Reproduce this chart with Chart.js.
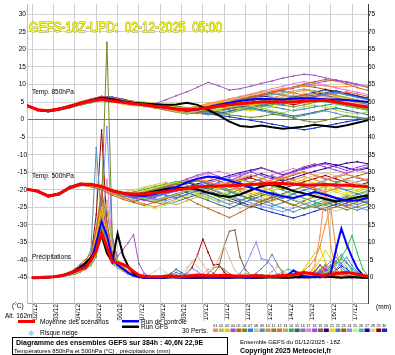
<!DOCTYPE html>
<html><head><meta charset="utf-8">
<script src="https://cdn.jsdelivr.net/npm/chart.js@4.4.0/dist/chart.umd.min.js"></script>
<style>html,body{margin:0;padding:0;background:#fff;overflow:hidden}canvas{display:block}</style>
</head><body>
<canvas id="c" width="395" height="355"></canvas>
<script>
// ---- time axes (hours from run start 01/12 18Z) ----
const hoursT = [0,12,24,36,48,60,72,84,96,108,120,132,144,156,168,180,192,204,216,228,240,252,264,276,288,300,312,324,336,348,360,372,384];
const hoursP = [6,12,18,24,30,36,42,48,54,60,66,72,78,84,90,96,102,108,114,120,126,132,138,144,150,156,162,168,174,180,186,192,198,204,210,216,222,228,234,240,246,252,258,264,270,276,282,288,294,300,306,312,318,324,330,336,342,348,354,360,366,372,378,384];
const dayHours = [6,30,54,78,102,126,150,174,198,222,246,270,294,318,342,366];
const dayLabels = ['02/12','03/12','04/12','05/12','06/12','07/12','08/12','09/12','10/12','11/12','12/12','13/12','14/12','15/12','16/12','17/12'];
const leftTicks = [-45,-40,-35,-30,-25,-20,-15,-10,-5,0,5,10,15,20,25,30];
const rightTicks = [0,5,10,15,20,25,30,35,40,45,50,55,60,65,70,75];

const memberColors = ['#ff8c40','#a0d060','#e8c800','#a050c0','#c06010','#6e8a20','#2080ff','#e0c090','#5090c0','#e09030','#808040','#ff6030','#c0b060','#20c040','#306080','#708090','#e080e0','#a040ff','#806040','#300080','#e0e000','#4080c0','#a06000','#8090ff','#c0ff60','#40c0a0','#2000a0','#e0d0b0','#a00000','#0030c0'];

// ---- Temperature 850 hPa (°C) ----
const t850Mean = [4.0,2.8,2.5,3.0,3.7,4.6,5.4,5.8,5.3,4.9,4.5,4.2,3.8,3.5,3.0,2.8,3.0,3.4,3.9,4.2,4.5,4.8,5.0,5.0,5.0,5.0,5.2,5.4,5.5,5.0,4.5,4.0,3.6];
const t850Ctrl = [4.0,2.7,2.4,2.9,3.7,4.6,5.4,5.9,5.5,5.0,4.6,4.2,3.8,3.4,3.0,2.6,2.9,3.5,4.2,4.8,5.3,5.7,5.9,5.8,5.7,5.9,6.1,6.0,5.8,5.7,5.6,5.3,5.0];
const t850Gfs = [4.0,2.8,2.5,3.0,3.8,4.7,5.5,6.2,5.8,5.2,4.8,4.6,4.4,4.2,4.3,4.8,4.2,2.8,1.2,-0.6,-1.8,-2.1,-1.7,-2.2,-2.6,-2.3,-2.0,-1.5,-1.8,-2.2,-1.6,-0.9,-0.2];
const t850Members = [
[4.0,2.9,2.4,3.2,4.0,5.0,5.6,6.2,5.5,4.6,4.2,4.4,4.0,3.2,2.5,2.9,3.8,4.6,5.2,5.9,6.4,7.1,7.8,8.2,8.9,9.1,9.5,9.8,9.6,9.3,9.4,9.7,9.5],
[4.0,2.7,2.6,2.9,3.5,4.3,5.2,5.9,5.6,5.3,5.1,4.4,3.6,3.1,2.2,1.8,2.4,3.1,2.6,2.0,2.9,3.8,3.3,2.5,1.9,2.8,3.6,4.1,3.4,2.7,2.0,1.6,2.2],
[4.0,2.8,2.3,2.7,3.9,4.8,5.5,5.7,5.0,4.5,4.8,5.0,4.6,4.1,3.5,3.2,3.6,4.4,4.9,5.3,4.7,4.1,4.6,5.4,6.1,5.6,4.8,5.2,6.0,6.5,5.8,5.1,4.6],
[4.0,2.9,2.5,3.1,3.8,4.7,5.7,6.5,6.1,5.2,4.4,3.9,4.5,5.6,6.8,7.9,9.2,10.6,9.6,8.4,8.8,9.5,10.3,11.0,11.8,12.4,12.9,12.6,11.9,11.2,10.8,10.1,9.4],
[4.0,2.6,2.3,3.0,3.7,4.4,5.1,5.6,5.2,4.9,4.7,4.0,3.3,2.7,2.1,1.6,1.9,2.6,3.5,4.6,5.5,6.3,7.0,7.9,8.6,9.3,10.1,10.8,11.4,11.0,10.2,9.1,8.3],
[4.0,2.7,2.4,2.9,3.4,4.2,4.9,5.6,5.4,5.0,4.9,4.7,4.5,4.2,3.8,3.4,3.0,2.4,1.9,1.3,1.0,0.6,0.9,1.5,1.2,0.4,-0.3,-0.8,-0.2,0.5,1.1,0.7,0.3],
[4.0,2.8,2.6,3.1,3.9,4.8,5.4,6.0,5.7,5.1,4.6,4.1,3.7,3.3,2.9,2.3,2.7,3.3,4.1,4.8,5.6,6.3,5.7,4.9,4.3,5.1,5.9,6.6,7.3,7.9,7.2,6.4,5.8],
[4.0,2.9,2.5,2.8,3.6,4.5,5.3,5.8,5.1,4.3,3.9,3.6,3.3,2.9,2.6,2.8,3.5,4.2,4.9,5.6,6.2,6.9,7.5,8.3,8.9,8.4,7.7,7.0,6.4,5.8,5.2,4.6,4.0],
[4.0,2.7,2.2,2.6,3.3,4.1,4.8,5.5,5.3,5.0,4.8,4.5,4.2,3.7,3.1,2.6,2.2,1.8,1.4,1.9,2.6,3.1,2.5,1.8,1.1,0.6,1.2,1.9,2.5,1.8,1.0,0.4,-0.1],
[4.0,2.8,2.5,3.1,3.9,4.9,5.6,6.4,6.0,5.5,5.2,4.9,4.4,4.0,3.7,3.3,3.8,4.5,5.1,5.8,6.4,6.0,5.5,6.2,7.0,7.7,8.3,8.0,7.4,6.8,6.2,5.6,5.0],
[4.0,2.6,2.4,3.0,3.7,4.6,5.3,5.7,5.2,4.6,4.3,4.1,3.8,3.4,2.8,2.4,2.7,3.1,3.6,3.2,2.7,3.3,4.0,4.6,4.1,3.6,4.2,4.9,5.5,5.0,4.3,3.6,3.0],
[4.0,2.9,2.7,3.3,4.1,5.1,5.9,6.6,6.2,5.6,5.0,4.6,4.3,4.0,3.6,3.1,3.4,3.9,4.5,5.1,5.7,6.4,7.1,7.7,8.1,7.6,7.0,6.5,6.9,7.4,7.9,7.3,6.6],
[4.0,2.7,2.3,2.7,3.5,4.4,5.2,5.9,5.8,5.4,5.0,4.6,4.1,3.6,3.0,2.3,1.7,2.2,2.8,3.4,4.0,4.7,5.3,5.8,6.4,7.0,6.6,6.0,5.4,4.8,4.1,3.5,2.9],
[4.0,2.8,2.4,2.9,3.6,4.5,5.3,6.0,5.6,5.0,4.5,4.2,3.9,3.5,3.0,2.6,3.0,3.6,4.3,4.0,3.5,3.0,3.6,4.2,4.9,5.5,6.2,5.7,5.1,4.5,3.8,3.2,2.6],
[4.0,2.6,2.2,2.8,3.6,4.4,5.0,5.4,5.0,4.6,4.4,4.2,3.9,3.6,3.3,2.9,2.5,2.1,2.6,3.2,3.8,3.3,2.8,2.2,1.6,1.0,1.5,2.1,2.8,3.3,2.7,2.0,1.4],
[4.0,2.9,2.6,3.0,3.8,4.8,5.5,6.1,5.7,5.2,4.7,4.3,4.0,3.7,3.4,3.0,3.4,4.0,4.6,5.2,5.8,6.3,6.9,7.4,7.0,6.4,5.9,6.5,7.1,7.6,7.0,6.3,5.6],
[4.0,2.7,2.5,3.1,3.9,4.7,5.4,6.3,6.0,5.4,4.9,4.5,4.2,3.9,3.4,3.0,3.5,4.2,5.0,5.8,6.6,7.3,8.1,8.8,9.5,10.2,10.8,10.4,9.8,9.0,8.4,7.8,7.1],
[4.0,2.8,2.3,2.8,3.5,4.3,5.1,5.8,5.5,5.1,4.7,4.2,3.6,3.0,2.4,1.9,2.5,3.3,4.0,4.7,5.5,6.3,7.0,7.6,8.3,9.0,9.7,10.3,10.9,11.3,10.6,9.9,9.1],
[4.0,2.7,2.4,2.9,3.7,4.6,5.4,6.1,5.9,5.3,4.8,4.4,4.0,3.6,3.2,2.7,2.3,1.9,2.4,3.0,3.6,4.1,4.6,5.2,5.8,6.3,6.9,7.4,6.9,6.3,5.7,5.0,4.4],
[4.0,2.9,2.6,3.2,4.0,4.9,5.8,6.6,6.4,5.8,5.2,4.7,4.2,3.8,3.3,2.9,3.3,3.9,4.4,5.0,5.7,6.2,6.8,6.3,5.8,6.4,7.1,7.8,8.5,8.0,7.3,6.6,6.0],
[4.0,2.8,2.5,3.0,3.8,4.6,5.2,5.6,5.3,4.9,4.6,4.3,4.1,3.8,3.4,3.0,2.7,2.4,2.9,3.5,3.0,2.5,3.0,3.6,4.2,4.8,5.4,6.0,5.5,4.9,4.3,3.7,3.1],
[4.0,2.6,2.3,2.9,3.6,4.5,5.2,5.8,5.5,5.0,4.5,4.0,3.5,3.1,2.7,2.2,1.8,1.4,1.9,2.5,3.1,3.7,4.2,3.7,3.1,2.5,3.0,3.6,4.1,4.6,4.1,3.5,3.0],
[4.0,2.9,2.7,3.2,4.0,4.9,5.6,6.2,5.8,5.4,5.0,4.7,4.4,4.1,3.7,3.3,3.7,4.2,4.8,5.4,6.0,6.6,7.2,7.8,8.4,9.0,9.6,9.2,8.6,8.0,7.3,6.7,6.0],
[4.0,2.7,2.4,3.0,3.7,4.5,5.3,6.0,5.7,5.2,4.8,4.4,4.0,3.5,3.1,2.6,2.9,3.4,4.0,4.6,4.1,3.6,4.2,4.8,5.5,6.1,6.7,7.2,6.7,6.1,5.4,4.8,4.2],
[4.0,2.8,2.4,2.8,3.5,4.4,5.1,5.7,5.4,4.9,4.5,4.1,3.7,3.3,2.9,2.5,2.1,2.6,3.2,3.8,4.4,5.0,5.6,6.2,5.7,5.1,4.6,4.0,3.5,3.9,4.4,3.9,3.3],
[4.0,2.6,2.2,2.7,3.4,4.2,4.9,5.5,5.2,4.8,4.5,4.3,4.0,3.6,3.1,2.7,3.1,3.7,4.3,4.9,5.4,6.0,6.5,7.1,7.6,8.2,8.7,8.2,7.6,7.0,6.3,5.6,4.9],
[4.0,2.9,2.6,3.1,3.9,4.8,5.6,6.3,6.0,5.5,5.0,4.6,4.2,3.8,3.4,3.0,2.6,2.2,1.8,2.3,2.9,3.5,4.1,4.7,5.3,5.9,6.5,7.1,7.7,8.2,7.5,6.8,6.1],
[4.0,2.8,2.5,3.0,3.8,4.7,5.4,6.0,5.6,5.1,4.6,4.2,3.9,3.5,3.1,2.8,3.2,3.8,4.4,5.1,5.7,5.2,4.7,5.3,6.0,6.6,7.2,6.8,6.2,5.6,5.0,4.4,3.8],
[4.0,2.7,2.3,2.8,3.6,4.5,5.2,5.9,5.7,5.3,4.9,4.5,4.1,3.7,3.2,2.8,2.4,2.9,3.5,4.1,4.7,5.3,5.9,5.4,4.8,4.2,4.8,5.4,6.0,5.5,4.9,4.3,3.7],
[4.0,2.9,2.5,3.1,3.8,4.6,5.3,5.9,5.5,5.0,4.5,4.0,3.6,3.2,2.8,2.4,2.0,1.6,1.2,0.8,0.3,-0.2,-0.7,-1.3,-1.8,-2.4,-2.9,-2.4,-1.8,-1.2,-0.6,-0.1,0.4]
];

// ---- Temperature 500 hPa (°C) ----
const t500Mean = [-19.8,-20.4,-21.8,-21.2,-19.4,-18.4,-18.5,-19.0,-20.3,-21.0,-21.2,-21.2,-20.8,-20.5,-20.0,-19.6,-19.2,-19.0,-18.9,-18.8,-18.7,-18.5,-18.3,-18.1,-18.2,-18.4,-18.6,-18.6,-18.5,-18.6,-18.7,-18.9,-19.1];
const t500Ctrl = [-19.8,-20.4,-21.8,-21.2,-19.4,-18.4,-18.5,-19.1,-20.3,-21.0,-21.5,-21.8,-21.2,-20.3,-19.2,-17.9,-16.8,-16.2,-16.5,-17.4,-18.3,-19.4,-20.3,-21.1,-21.8,-22.3,-21.5,-20.6,-21.4,-22.3,-23.1,-23.0,-22.2];
const t500Gfs = [-19.8,-20.3,-21.7,-21.1,-19.3,-18.3,-18.4,-19.0,-20.2,-20.9,-21.3,-21.0,-20.4,-19.8,-19.5,-19.3,-19.9,-20.8,-21.6,-22.0,-21.3,-20.1,-19.0,-18.4,-19.2,-20.3,-21.0,-21.8,-22.6,-23.3,-22.8,-22.1,-21.6];
const t500Members = [
[-19.8,-20.3,-21.6,-21.0,-19.2,-18.2,-18.6,-19.5,-21.0,-22.3,-23.0,-22.1,-21.0,-20.2,-19.1,-17.8,-16.9,-17.6,-18.8,-17.9,-16.8,-15.9,-16.7,-17.8,-16.6,-15.5,-14.8,-15.9,-17.1,-16.4,-15.6,-16.3,-17.2],
[-19.8,-20.5,-22.0,-21.4,-19.6,-18.6,-18.2,-18.8,-19.9,-20.6,-21.5,-22.4,-23.1,-22.2,-21.3,-20.1,-21.0,-22.3,-23.5,-22.6,-21.4,-20.2,-19.1,-20.3,-21.6,-22.8,-23.9,-24.8,-23.6,-22.5,-21.4,-22.3,-23.1],
[-19.8,-20.4,-21.7,-21.1,-19.3,-18.5,-18.8,-19.4,-20.5,-21.4,-21.0,-20.3,-19.5,-18.6,-17.9,-18.7,-19.8,-20.6,-19.4,-18.3,-17.2,-18.1,-19.3,-20.4,-19.2,-18.0,-17.1,-18.2,-19.5,-20.7,-21.6,-20.5,-19.6],
[-19.8,-20.2,-21.5,-20.9,-19.0,-18.1,-18.3,-18.9,-20.1,-21.2,-22.0,-21.3,-20.4,-19.2,-18.0,-16.9,-15.8,-15.0,-16.2,-17.4,-16.1,-14.9,-13.8,-14.7,-15.9,-14.6,-13.4,-12.6,-13.5,-14.4,-15.3,-14.2,-13.4],
[-19.8,-20.5,-21.9,-21.3,-19.5,-18.7,-19.1,-20.0,-21.5,-22.7,-23.6,-24.4,-23.5,-22.3,-21.2,-22.4,-24.0,-25.3,-26.6,-27.9,-26.4,-24.8,-23.1,-22.0,-23.2,-24.5,-23.1,-21.9,-22.8,-23.7,-24.6,-23.4,-22.5],
[-19.8,-20.3,-21.8,-21.2,-19.4,-18.3,-18.4,-19.1,-20.2,-20.9,-21.6,-20.7,-19.8,-19.0,-18.4,-17.6,-18.5,-19.6,-20.8,-21.9,-23.0,-22.1,-21.0,-21.9,-23.1,-24.2,-25.4,-24.5,-23.5,-24.6,-25.7,-24.8,-23.9],
[-19.8,-20.4,-21.7,-21.0,-19.1,-18.3,-18.6,-19.3,-20.6,-21.6,-22.4,-21.6,-20.7,-21.5,-22.3,-21.3,-20.2,-19.0,-17.8,-16.9,-17.9,-19.1,-20.3,-21.5,-22.4,-21.2,-20.1,-19.0,-18.1,-19.0,-20.1,-21.2,-22.0],
[-19.8,-20.3,-21.6,-20.8,-19.0,-18.0,-18.1,-18.7,-19.8,-20.5,-20.0,-19.2,-18.5,-17.8,-18.9,-19.9,-20.9,-19.8,-18.6,-17.5,-16.4,-15.6,-16.8,-18.0,-19.1,-18.0,-16.9,-15.9,-15.1,-16.0,-17.1,-18.1,-18.9],
[-19.8,-20.6,-22.0,-21.5,-19.8,-18.8,-18.7,-19.2,-20.4,-21.3,-21.9,-22.6,-21.8,-20.9,-20.1,-19.4,-20.4,-21.6,-22.9,-24.1,-23.0,-21.8,-22.9,-24.0,-25.2,-26.3,-25.1,-24.0,-22.8,-23.8,-24.9,-25.8,-24.7],
[-19.8,-20.4,-21.8,-21.3,-19.5,-18.4,-18.5,-19.2,-20.7,-21.9,-23.0,-24.0,-24.9,-23.8,-22.6,-21.4,-20.3,-19.2,-18.1,-19.2,-20.4,-21.6,-20.5,-19.4,-18.3,-17.2,-16.2,-17.1,-18.2,-19.3,-20.2,-19.1,-18.2],
[-19.8,-20.3,-21.7,-21.1,-19.3,-18.4,-18.7,-19.5,-20.8,-21.5,-21.2,-20.6,-20.0,-19.3,-18.7,-18.0,-17.4,-18.3,-19.3,-20.3,-21.4,-22.5,-23.4,-22.3,-21.1,-20.0,-19.0,-20.0,-21.1,-22.2,-23.2,-22.2,-21.2],
[-19.8,-20.5,-21.9,-21.2,-19.4,-18.5,-18.4,-18.9,-20.0,-20.8,-21.4,-21.9,-21.0,-20.0,-19.0,-18.1,-17.2,-16.4,-17.5,-18.7,-19.8,-19.0,-18.1,-17.1,-16.3,-17.3,-18.4,-19.5,-20.6,-19.6,-18.6,-17.7,-16.9],
[-19.8,-20.4,-21.6,-20.9,-19.2,-18.2,-18.3,-19.0,-20.3,-21.1,-21.8,-22.4,-23.0,-23.6,-24.2,-23.1,-22.0,-20.8,-19.7,-18.7,-19.8,-21.0,-22.2,-23.3,-22.2,-21.0,-20.0,-21.1,-22.3,-23.4,-22.4,-21.4,-20.6],
[-19.8,-20.3,-21.8,-21.1,-19.3,-18.3,-18.5,-19.2,-20.5,-21.3,-20.6,-19.9,-19.1,-18.4,-17.6,-18.6,-19.7,-20.9,-22.0,-21.0,-19.9,-18.8,-17.8,-18.9,-20.1,-21.2,-22.4,-23.5,-24.4,-23.4,-22.3,-21.2,-20.2],
[-19.8,-20.5,-22.0,-21.4,-19.6,-18.5,-18.6,-19.4,-20.9,-22.1,-23.3,-22.5,-21.5,-20.6,-19.6,-20.7,-21.9,-23.0,-24.2,-25.2,-24.0,-22.8,-21.7,-20.6,-21.8,-22.9,-24.0,-25.0,-24.0,-23.0,-21.9,-22.9,-23.8],
[-19.8,-20.3,-21.6,-21.0,-19.1,-18.2,-18.4,-19.1,-20.2,-21.0,-21.7,-21.0,-20.1,-19.2,-18.3,-17.5,-16.8,-17.8,-18.9,-20.0,-19.0,-17.9,-16.9,-16.0,-17.0,-18.1,-19.2,-18.3,-17.3,-16.4,-15.6,-16.6,-17.5],
[-19.8,-20.4,-21.8,-21.2,-19.4,-18.6,-19.0,-19.8,-21.1,-22.0,-21.3,-20.5,-19.6,-18.8,-18.0,-17.1,-16.2,-15.4,-14.7,-15.6,-16.7,-17.8,-16.8,-15.7,-14.8,-13.9,-14.8,-15.9,-17.0,-16.1,-15.1,-14.3,-15.2],
[-19.8,-20.3,-21.7,-21.1,-19.2,-18.3,-18.5,-19.3,-20.6,-21.5,-22.3,-23.0,-22.1,-21.2,-20.4,-19.6,-18.8,-18.0,-17.2,-16.4,-15.6,-14.9,-15.9,-16.9,-16.0,-15.0,-14.1,-13.3,-12.6,-13.5,-14.5,-13.6,-12.8],
[-19.8,-20.5,-21.9,-21.4,-19.7,-18.7,-18.8,-19.5,-20.7,-21.6,-22.2,-22.9,-23.6,-22.6,-21.6,-20.6,-19.7,-20.8,-22.0,-23.1,-24.1,-25.0,-24.0,-22.9,-21.9,-22.9,-23.9,-24.9,-25.8,-24.8,-23.8,-22.8,-22.0],
[-19.8,-20.4,-21.7,-21.0,-19.2,-18.3,-18.6,-19.3,-20.4,-21.1,-21.7,-21.1,-20.3,-19.5,-18.7,-17.9,-18.9,-19.9,-19.0,-18.0,-17.1,-16.2,-15.4,-16.4,-17.5,-16.6,-15.6,-14.7,-13.9,-13.1,-12.4,-12.0,-12.6],
[-19.8,-20.3,-21.8,-21.3,-19.5,-18.4,-18.4,-19.0,-20.1,-20.7,-20.1,-19.5,-18.9,-18.2,-19.2,-20.3,-21.4,-22.5,-21.5,-20.4,-19.4,-20.4,-21.4,-22.4,-21.3,-20.2,-19.1,-18.1,-19.1,-20.1,-21.0,-20.0,-19.1],
[-19.8,-20.4,-21.6,-20.9,-19.1,-18.1,-18.3,-18.9,-20.1,-21.0,-21.6,-22.3,-22.9,-22.0,-21.1,-20.2,-19.3,-18.5,-19.5,-20.6,-21.7,-22.8,-23.8,-24.7,-23.6,-22.5,-21.5,-20.5,-21.5,-22.5,-23.4,-24.2,-23.1],
[-19.8,-20.5,-21.9,-21.2,-19.4,-18.4,-18.5,-19.2,-20.3,-21.2,-21.9,-21.2,-20.3,-19.4,-18.5,-17.7,-18.7,-19.7,-18.8,-17.8,-16.9,-17.9,-18.9,-17.9,-16.8,-15.8,-14.9,-15.8,-16.8,-17.8,-16.9,-16.0,-15.2],
[-19.8,-20.3,-21.7,-21.1,-19.3,-18.2,-18.3,-19.0,-20.0,-20.7,-21.3,-21.9,-22.5,-23.1,-22.2,-21.2,-20.3,-19.4,-20.5,-21.6,-22.7,-23.7,-24.6,-25.4,-26.2,-25.2,-24.1,-23.1,-22.1,-23.1,-24.1,-25.0,-25.8],
[-19.8,-20.4,-21.8,-21.1,-19.3,-18.4,-18.7,-19.6,-21.0,-22.2,-23.4,-24.5,-25.4,-24.3,-23.1,-22.0,-20.9,-19.9,-19.0,-20.0,-21.1,-20.1,-19.1,-18.1,-19.2,-20.3,-21.3,-22.3,-21.3,-20.3,-19.3,-20.3,-21.2],
[-19.8,-20.3,-21.6,-21.0,-19.2,-18.3,-18.4,-19.0,-20.2,-20.9,-21.4,-20.8,-20.1,-19.3,-18.5,-17.7,-16.9,-17.9,-19.0,-20.0,-21.0,-20.0,-19.0,-18.0,-17.1,-18.1,-19.1,-20.1,-19.1,-18.1,-17.2,-18.2,-19.1],
[-19.8,-20.5,-21.9,-21.3,-19.5,-18.6,-18.7,-19.4,-20.6,-21.4,-22.1,-22.7,-21.9,-21.0,-20.1,-19.2,-18.3,-17.5,-16.7,-15.9,-15.1,-14.4,-13.7,-14.7,-15.7,-14.8,-13.8,-13.0,-12.3,-12.9,-13.7,-14.5,-13.8],
[-19.8,-20.4,-21.7,-21.0,-19.1,-18.2,-18.5,-19.3,-20.5,-21.4,-22.1,-22.7,-23.4,-24.0,-23.1,-22.0,-21.0,-22.1,-23.2,-24.3,-25.3,-24.3,-23.2,-22.2,-21.2,-22.2,-23.3,-24.3,-25.2,-26.0,-25.0,-24.0,-23.2],
[-19.8,-20.3,-21.8,-21.2,-19.4,-18.3,-18.4,-19.1,-20.3,-21.1,-21.7,-21.1,-20.4,-19.7,-18.9,-18.1,-17.3,-18.3,-19.4,-18.5,-17.5,-16.6,-17.6,-18.6,-19.6,-18.7,-17.7,-16.8,-15.9,-16.9,-17.9,-18.8,-17.9],
[-19.8,-20.4,-21.7,-21.1,-19.3,-18.4,-18.6,-19.3,-20.5,-21.3,-22.0,-22.8,-23.5,-24.2,-23.3,-22.3,-21.3,-20.3,-21.3,-22.4,-23.5,-24.5,-25.5,-26.4,-27.2,-28.0,-27.1,-26.1,-25.1,-24.1,-23.1,-22.1,-21.2]
];

// ---- Precipitation (mm per 6 h) ----
const precipMean = [0,0,0.1,0.2,0.3,0.5,0.8,1.3,1.8,2.4,2.9,5.0,7.5,12.8,8.8,4.5,4.3,3.8,3.0,1.8,0.7,0.4,0.3,0.3,0.3,0.4,0.5,0.4,0.3,0.4,0.6,0.8,0.7,0.5,0.5,0.6,0.7,0.6,0.5,0.4,0.4,0.5,0.6,0.5,0.4,0.4,0.5,0.6,0.7,0.9,1.2,1.5,1.3,1.0,0.8,0.7,0.9,1.2,1.4,1.5,1.3,1.0,0.7,0.3];
const precipCtrl = [0,0,0,0.1, 0.2,0.4,0.7,1.1, 1.7,2.5,3.5,4.8, 10,16,12,5.5, 3.6,2.5,1.4,0.6, 0.2,0,0,0, 0,0.1,0.2,0.1, 0,0,0.1,0.2, 0.1,0,0,0, 0,0.1,0.2,0.1, 0,0,0.1,0.2, 0.3,0.2,0.1,0.2, 0.8,2.0,1.1,0.4, 0.2,0.1,0.2,0.5, 1.2,8,14,9.5, 5.8,2.6,0.8,0.2];
const precipGfs = [0,0,0,0.1, 0.2,0.5,0.8,1.3, 2.0,3.0,4.2,5.8, 8,12,7,4.5, 12.6,6.5,3.2,1.2, 0.3,0,0,0, 0,0,0.1,0.2, 0.1,0,0,0, 0,0.1,0.2,0.1, 0,0,0.1,0.2, 0.1,0,0,0, 0.1,0.2,0.1,0, 0,0.1,0.3,0.2, 0.1,0.2,0.4,0.3, 0.2,0.1,0,0.1, 0.2,0.1,0,0];
const precipMembers = [
[0,0,0,0.1, 0.2,0.4,0.6,0.9, 1.5,2.2,3.0,4.6, 9,18,14,6, 4,3,2,1, 0.3,0.1,0,0, 0,0.2,0.5,0.3, 0.1,0,0,0.2, 0.4,0.6,0.3,0, 0,0,0.2,0.5, 0.3,0,0,0, 0.1,0.3,0.2,0, 0,0,0.4,0.8, 1.2,3.5,12,26, 9,2,0.8,0.3, 0.5,0.9,0.4,0],
[0,0,0,0, 0.1,0.3,0.5,0.8, 1.2,1.8,2.6,3.8, 7,15,22,9, 5,4,2.5,1.2, 0.4,0.2,0,0, 0,0,0.1,0.2, 0.3,0.1,0,0, 0,0.2,0.4,0.2, 0,0.1,0.3,0.1, 0,0,0.2,0.5, 0.7,0.4,0.1,0, 0,0.2,0.3,0.1, 0,0.3,0.8,1.5, 2.1,3.8,5.2,3.1, 1.4,0.6,0.2,0],
[0,0,0.1,0.2, 0.3,0.5,0.8,1.2, 2.0,3.1,4.2,5.5, 12,20,11,5, 3.5,2.2,1.5,0.8, 0.2,0,0,0, 0.1,0.3,0.2,0, 0,0,0.4,1.0, 0.6,0.2,0,0, 0,0.3,0.2,0, 0,0,0.1,0.4, 0.3,0.1,0,0, 0.2,0.5,1.0,2.5, 4.8,7,8.4,4.5, 1.8,0.9,0.5,0.2, 0.3,0.6,0.2,0],
[0,0,0,0.1, 0.2,0.5,0.9,1.4, 2.2,3.5,4.4,5.1, 8,14,19,10, 6,8,10,12.2, 4,1.2,0.4,0.1, 0,0,0.3,0.6, 0.4,0.1,0,0, 0,0.2,0.5,0.3, 0.1,0,0,0.2, 0.4,0.2,0,0, 0,0.1,0.4,0.6, 0.3,0.1,0,0, 0.2,0.5,1.2,2.4, 3.6,2.2,1.1,0.4, 0.2,0.1,0,0],
[0,0,0.1,0.1, 0.3,0.6,1.0,1.6, 2.5,3.8,5.2,6.8, 14,25,16,7, 4.5,3.2,1.8,0.9, 0.3,0.1,0,0, 0,0.4,0.8,0.5, 0.2,0,0,0, 0.2,0.6,1.1,0.7, 0.3,0.1,0,0, 0,0,0.3,0.6, 0.4,0.2,0,0, 0,0.1,0.2,0.4, 0.8,1.6,3.5,2.0, 0.9,0.4,0.2,0.5, 0.8,0.4,0.1,0],
[0,0,0,0, 0.1,0.2,0.4,0.7, 1.0,1.6,2.4,3.5, 6,21,67,12, 5,3,1.6,0.7, 0.2,0,0,0, 0.1,0.2,0.1,0, 0,0.2,0.5,0.3, 0.1,0,0,0.2, 0.5,0.9,0.4,0.1, 0,0,0.1,0.3, 0.2,0,0,0, 0.1,0.3,0.2,0, 0,0.2,0.6,0.9, 0.5,0.3,0.1,0, 0,0.2,0.4,0.1],
[0,0,0,0.1, 0.2,0.4,0.7,1.1, 1.7,2.6,3.6,4.8, 10,17,13,6, 3.8,2.6,1.5,0.6, 0.1,0,0,0, 0,0.1,0.4,0.7, 0.3,0.1,0,0, 0,0.1,0.3,0.1, 0,0,0.2,0.4, 0.6,0.3,0.1,0, 0,0.2,0.5,0.3, 0.1,0,0,0.1, 0.3,0.6,1.1,1.8, 3.2,4.6,3.0,1.6, 0.8,0.3,0.1,0],
[0,0,0.1,0.1, 0.2,0.3,0.6,0.9, 1.4,2.0,2.9,4.1, 8,13,10,5, 3,2,1.2,0.5, 0.1,0,0,0.2, 0.5,0.8,0.5,0.2, 0.8,2.2,4.5,6.2, 3.8,1.6,2.5,5.4, 9.2,5.6,2.1,0.6, 0.2,0,0,0.1, 0.3,0.6,0.4,0.1, 0,0,0.2,0.4, 0.6,0.3,0.1,0, 0.2,0.4,0.8,0.5, 0.2,0.1,0,0],
[0,0,0,0.1, 0.3,0.5,0.8,1.3, 2.0,3.0,4.5,8.0, 37,16,9,4, 2.8,1.9,1.0,0.4, 0.1,0,0,0, 0,0,0.2,0.5, 0.8,0.5,0.2,0, 0,0,0.1,0.3, 0.5,0.3,0.1,0, 0,0.2,0.6,0.9, 0.5,0.2,0,0, 0.1,0.4,0.8,0.5, 0.2,0.1,0.3,0.6, 1.2,2.4,4.2,5.8, 3.5,1.6,0.6,0.1],
[0,0,0,0, 0.1,0.3,0.6,1.0, 1.6,2.4,3.4,4.9, 11,22,15,7, 4.2,2.9,1.7,0.8, 0.2,0,0,0, 0,0.2,0.1,0, 0,0.1,0.3,0.2, 0,0,0.2,0.5, 0.3,0.1,0,0, 0.1,0.3,0.2,0, 0,0,0.1,0.3, 0.5,0.8,1.2,2.0, 3.4,5.2,9.0,15, 20,8,2.2,0.6, 0.3,0.1,0,0],
[0,0,0,0.1, 0.2,0.4,0.6,1.0, 1.5,2.3,3.2,4.4, 9,16,12,6, 3.6,2.4,1.4,0.6, 0.2,0.1,0,0, 0,0.1,0.3,0.5, 0.7,0.4,0.1,0, 0.4,1.2,2.8,3.2, 2.4,1.1,0.3,0, 0,0,0.2,0.1, 0,0.2,0.4,0.2, 0,0,0.1,0.3, 0.5,0.2,0,0, 0.1,0.3,0.6,0.4, 0.2,0,0,0],
[0,0,0.1,0.1, 0.2,0.5,0.8,1.2, 1.9,2.8,3.9,5.3, 13,21,14,6, 4,2.7,1.6,0.7, 0.2,0,0,0, 0.1,0.3,0.2,0, 0,0,0.2,0.5, 0.3,0.1,0,0, 0,0.2,0.5,0.8, 0.5,0.2,0,0, 0,0.1,0.3,0.2, 0.1,0,0,0.2, 0.4,0.8,1.5,2.8, 1.6,0.8,0.3,0.1, 0.2,0.4,0.2,0],
[0,0,0,0, 0.1,0.2,0.5,0.8, 1.3,2.0,2.8,3.9, 8,12,9,4.5, 3,2.1,1.3,0.6, 0.1,0,0,0, 0,0,0.1,0.3, 0.5,0.3,0.1,0, 0,0.1,0.2,0.1, 0,0,0.3,0.7, 1.2,0.8,0.4,0.1, 0.5,1.8,3.2,2.0, 0.9,0.4,0.1,0, 0,0.2,0.4,0.3, 0.1,0,0,0.2, 0.3,0.1,0,0],
[0,0,0,0.1, 0.2,0.4,0.7,1.0, 1.6,2.4,3.3,4.5, 10,18,13,6, 3.9,2.7,1.6,0.7, 0.2,0,0,0, 0,0.1,0.2,0.1, 0,0,0.1,0.3, 0.2,0,0,0, 0.1,0.3,0.2,0, 0,0,0.2,0.4, 0.2,0.1,0,0, 0,0.2,0.6,0.4, 0.2,0.4,0.8,1.4, 2.2,3.6,5.8,8.4, 12,7,2.5,0.6],
[0,0,0,0, 0.1,0.3,0.5,0.9, 1.4,2.1,3.0,4.2, 9,15,11,5, 3.3,2.2,1.3,0.5, 0.1,0,0,0, 0.2,0.5,1.2,2.4, 1.4,0.6,0.2,0, 0,0,0.1,0.3, 0.2,0,0,0, 0.1,0.4,0.3,0.1, 0,0,0.2,0.5, 1.0,2.2,1.5,0.7, 0.3,0.1,0,0.2, 0.6,1.2,0.8,0.3, 0.1,0,0,0],
[0,0,0,0.1, 0.2,0.4,0.6,1.0, 1.5,2.2,3.1,4.3, 9,16,12,5.5, 3.5,2.4,1.4,0.6, 0.2,0,0,0, 0,0.1,0.3,0.2, 0,0,0.2,0.4, 0.3,0.1,0,0, 0,0.2,0.4,0.3, 0.1,0.5,1.2,2.6, 4.1,6.6,3.8,1.2, 0.4,0.1,0,0, 0,0.2,0.5,0.3, 0.2,0.6,1.0,0.5, 0.2,0,0,0],
[0,0,0,0, 0.2,0.3,0.6,0.9, 1.4,2.1,3.0,4.2, 9,16,28,9, 4,2.8,1.6,0.7, 0.2,0,0,0, 0,0,0.1,0.3, 0.6,1.2,0.8,0.3, 1.0,2.4,1.3,0.4, 0.1,0,0,0.2, 0.5,0.3,0.1,0, 0,0.3,0.6,0.4, 0.1,0,0,0, 0.2,0.5,0.3,0.1, 0.4,0.9,1.6,0.8, 0.3,0.1,0,0],
[0,0,0,0.1, 0.3,0.5,0.9,1.3, 2.1,3.2,4.3,5.6, 12,19,15,7, 4.4,3.0,1.8,0.8, 0.2,0,0,0, 0,0.2,0.4,0.3, 0.1,0,0,0, 0,0.2,0.3,0.1, 0,0,0.1,0.4, 0.7,0.4,0.1,0, 0,0,0.2,0.5, 0.3,0.1,0,0, 0.4,1.0,2.2,3.6, 2.0,0.9,0.4,0.1, 0,0.2,0.1,0],
[0,0,0,0, 0.2,0.4,0.7,1.1, 1.8,2.7,3.8,5.0, 11,17,12,6, 3.7,2.5,1.4,0.6, 0.1,0,0,0, 0,0.2,0.4,0.2, 0,0,0.3,0.6, 0.2,0.5,1.2,3.0, 9.0,13.2,13.6,5.8, 2.2,0.8,0.3,0.1, 0.2,0,0,0.1, 0.3,0.2,0,0, 0,0.1,0.3,0.2, 0.1,0,0,0.2, 0.4,0.2,0,0],
[0,0,0,0.1, 0.2,0.4,0.6,1.0, 1.6,2.3,3.3,4.5, 10,17,12,5.5, 3.6,2.5,1.5,0.7, 0.2,0,0,0, 0,0,0.2,0.4, 0.2,0,0,0, 0.1,0.3,0.2,0, 0,0,0.2,0.3, 0.1,0,0,0.2, 0.4,0.2,0,0, 0,0.2,0.5,0.3, 0.8,1.8,3.6,2.2, 1.0,0.4,0.2,0.4, 0.6,0.3,0.1,0],
[0,0,0,0, 0.1,0.3,0.5,0.8, 1.3,1.9,2.7,3.8, 8,14,10,5, 3.2,2.2,1.3,0.6, 0.1,0,0,0, 0,0.1,0.3,0.5, 0.3,0.1,0,0, 0,0,0.1,0.2, 0.4,0.2,0,0, 0,0.1,0.3,0.2, 0,0,0.1,0.3, 0.2,0,0,0.4, 1.2,2.6,5.1,7.8, 5.5,2.4,0.8,0.2, 0.1,0,0,0],
[0,0,0,0.1, 0.2,0.4,0.7,1.1, 1.7,2.6,3.6,4.9, 10,18,13,6, 3.9,2.6,1.5,0.6, 0.2,0,0,0, 0.1,0.4,0.8,1.5, 0.9,0.4,0.1,0, 0,0,0.2,0.4, 0.2,0,0,0, 0,0.2,0.4,0.2, 0,0.1,0.3,0.6, 1.0,0.5,0.2,0, 0,0.3,0.6,1.2, 2.5,4.0,5.5,4.2, 2.6,1.2,0.4,0],
[0,0,0.1,0.1, 0.3,0.6,0.9,1.4, 2.2,3.3,4.6,6.0, 13,23,15,7, 4.5,3.1,1.8,0.8, 0.2,0,0,0, 0,0.3,0.6,0.4, 0.1,0,0,0.2, 0.5,0.9,0.5,0.2, 0,0,0.2,0.5, 0.3,0,0,0, 0.1,0.3,0.2,0, 0,0,0.2,0.5, 0.9,0.5,0.2,0.1, 0.3,0.6,0.3,0.1, 0,0.2,0.3,0],
[0,0,0,0, 0.2,0.3,0.6,1.0, 1.5,2.3,3.2,4.6, 9,20,43,11, 4.3,2.9,1.7,0.7, 0.2,0,0,0, 0,0.1,0.3,0.2, 0.5,1.4,2.6,1.8, 0.6,0.2,0,0, 0,0.2,0.5,1.2, 3.4,6.8,10.2,5.4, 5.0,3.2,1.0,0.3, 0.1,0,0,0.2, 0.5,1.1,2.0,3.2, 4.6,5.8,4.1,2.2, 0.9,0.3,0.1,0],
[0,0,0,0.1, 0.2,0.4,0.6,1.0, 1.5,2.2,3.1,4.3, 9,15,11,5, 3.4,2.3,1.3,0.6, 0.1,0,0,0, 0,0,0.2,0.4, 0.3,0.1,0,0, 0,0.2,0.4,0.2, 0,0,0.1,0.3, 0.5,0.3,0.1,0, 0,0.2,0.4,0.2, 0.1,0,0,0.3, 0.6,1.3,2.4,4.0, 2.6,1.2,0.5,0.2, 0.1,0,0,0],
[0,0,0,0, 0.1,0.3,0.6,0.9, 1.4,2.1,3.0,4.1, 8,14,10,4.5, 3,2,1.2,0.5, 0.1,0,0,0, 0,0.2,0.1,0, 0,0.1,0.3,0.2, 0,0,0.2,0.4, 0.2,0,0,0.1, 0.3,0.2,0,0, 0.1,0.4,0.9,1.6, 2.4,2.0,1.1,0.4, 0.2,0.4,0.9,1.6, 3.0,4.8,6.6,4.4, 2.0,0.8,0.2,0],
[0,0,0,0.1, 0.3,0.5,0.8,1.2, 1.9,2.9,4.0,5.4, 12,19,14,6.5, 4.1,2.8,1.6,0.7, 0.2,0,0,0, 0,0.1,0.3,0.2, 0,0,0.2,0.4, 0.3,0.1,0,0, 0,0.2,0.4,0.2, 0,0,0.1,0.3, 0.2,0,0,0, 0.1,0.3,0.6,0.4, 0.3,0.8,1.6,2.6, 1.5,0.7,0.3,0.1, 0.2,0.4,0.2,0],
[0,0,0,0, 0.2,0.3,0.6,0.9, 1.4,2.1,3.0,4.2, 9,16,12,5, 3.4,2.3,1.3,0.6, 0.2,0.4,0.9,1.8, 2.8,1.5,0.6,0.2, 1.4,3.0,4.8,3.2, 1.2,0.4,0.1,0, 0.2,0.5,0.3,0.1, 0,0,0.2,0.4, 0.3,0.1,0,0, 0,0.2,0.4,0.7, 1.0,0.6,0.3,0.1, 0.2,0.5,0.3,0.1, 0,0,0,0],
[0,0,0,0.1, 0.2,0.5,0.8,1.2, 1.9,2.8,3.8,6.0, 18,42,15,6, 3.8,2.6,1.5,0.6, 0.2,0,0,0, 0,0.2,0.4,0.3, 0.4,1.2,3.0,6.5, 11,7.2,3.6,3.8, 1.6,0.5,0.1,0, 0,0,0.2,0.4, 0.2,0,0,0, 0.1,0.2,0.1,0, 0.2,0.5,1.0,0.6, 0.3,0.1,0,0.2, 0.3,0.1,0,0],
[0,0,0,0.1, 0.2,0.4,0.7,1.1, 1.7,2.5,3.5,4.7, 10,17,12,6, 3.8,2.6,1.5,0.6, 0.2,0,0,0, 0,0.1,0.2,0.4, 0.2,0,0,0, 0,0.1,0.3,0.5, 0.3,0.1,0,0, 0.2,0.4,0.2,0, 0,0.1,0.3,0.2, 0,0,0.1,0.3, 0.5,0.9,1.8,1.2, 0.8,2.0,3.4,2.5, 1.2,0.5,0.1,0]
];

// ---- build datasets through the library scales ----
const pts = (hrs, vals) => vals.map((v, i) => ({x: hrs[i], y: v}));
const datasets = [];
function main(data, hrs, color, w, axis, ord) {
  datasets.push({data: pts(hrs, data), borderColor: color, backgroundColor: color, borderWidth: w,
    pointRadius: 0, yAxisID: axis, order: ord, tension: 0, fill: false});
}
main(precipMean, hoursP, '#ff0000', 3, 'yP', 0);
main(t850Mean, hoursT, '#ff0000', 3, 'yT', 0);
main(t500Mean, hoursT, '#ff0000', 3, 'yT', 0);
main(precipCtrl, hoursP, '#0000ff', 2, 'yP', 1);
main(t850Ctrl, hoursT, '#0000ff', 2, 'yT', 1);
main(t500Ctrl, hoursT, '#0000ff', 2, 'yT', 1);
main(precipGfs, hoursP, '#000000', 2, 'yP', 2);
main(t850Gfs, hoursT, '#000000', 2, 'yT', 2);
main(t500Gfs, hoursT, '#000000', 2, 'yT', 2);
function member(data, hrs, color, axis) {
  datasets.push({data: pts(hrs, data), borderColor: color, backgroundColor: color, borderWidth: 1,
    pointRadius: 0.9, pointBorderWidth: 0, pointBackgroundColor: color, yAxisID: axis, order: 3, tension: 0, fill: false});
}
for (let m = 0; m < memberColors.length; m++) {
  member(t850Members[m], hoursT, memberColors[m], 'yT');
  member(t500Members[m], hoursT, memberColors[m], 'yT');
  member(precipMembers[m], hoursP, memberColors[m], 'yP');
}

const SM = '"Liberation Sans", Arial, sans-serif';
const deco = {
  id: 'deco',
  afterDraw(chart) {
    const c = chart.ctx, xs = chart.scales.x, area = chart.chartArea;
    c.save();
    // tick extensions below plot
    c.strokeStyle = '#c8c8c8'; c.lineWidth = 1;
    dayHours.forEach(h => { const px = Math.round(xs.getPixelForValue(h)) + 0.5;
      c.beginPath(); c.moveTo(px, area.bottom); c.lineTo(px, area.bottom + 18); c.stroke(); });
    // title
    const title = 'GEFS-18Z-UPD:  02-12-2025  05:00';
    c.font = '14px ' + SM;
    const tw = c.measureText(title).width;
    c.save(); c.translate(29, 32); c.scale(193 / tw, 1);
    c.lineWidth = 1; c.strokeStyle = '#9a9a10'; c.strokeText(title, 0, 0);
    c.fillStyle = '#ffff20'; c.fillText(title, 0, 0); c.restore();
    // inner labels
    c.fillStyle = '#000'; c.font = '6.5px ' + SM; c.textBaseline = 'alphabetic';
    c.fillText('Temp. 850hPa', 32, 94);
    c.fillText('Temp. 500hPa', 32, 178);
    c.fillText('Précipitations', 32, 259);
    // units
    c.fillText('(°C)', 12, 308);
    c.fillText('Alt. 162m', 5, 318);
    c.fillText('(mm)', 376, 309);
    // legend
    c.fillStyle = '#ff0000'; c.fillRect(18, 320, 17, 3);
    c.fillStyle = '#0000ff'; c.fillRect(122, 320, 17, 2.5);
    c.fillStyle = '#000000'; c.fillRect(122, 325.5, 17, 2.5);
    c.fillStyle = '#000'; c.font = '6.5px ' + SM;
    c.fillText('Moyenne des scénarios', 40, 324);
    c.fillText('Run de contrôle', 141, 323.5);
    c.fillText('Run GFS', 141, 329);
    c.fillText('Risque neige', 40, 335);
    c.fillStyle = '#6fb4f0'; c.font = '8px "DejaVu Sans"'; c.fillText('❄', 28, 336);
    c.fillStyle = '#000'; c.font = '6.5px ' + SM;
    c.fillText('30 Perts.', 182, 333);
    const sw = 5.83;
    memberColors.forEach((col, i) => {
      const x0 = 213 + i * sw;
      c.fillStyle = col; c.fillRect(x0, 328.5, sw - 0.8, 3.5);
      c.fillStyle = '#000'; c.font = '3.6px ' + SM;
      c.fillText(String(i + 1).padStart(2, '0'), x0 + 0.3, 327);
    });
    // info box
    c.strokeStyle = '#000'; c.lineWidth = 1; c.strokeRect(12.5, 337.5, 215, 17);
    c.fillStyle = '#000';
    c.font = 'bold 7px ' + SM; c.fillText('Diagramme des ensembles GEFS sur 384h : 40,6N 22,9E', 16, 345);
    c.font = '6px ' + SM; c.fillText('Températures 850hPa et 500hPa (°C) , précipitations (mm)', 14, 352.5);
    c.font = '6px ' + SM; c.fillText('Ensemble GEFS du 01/12/2025 - 18Z', 240, 344);
    c.font = 'bold 7px ' + SM; c.fillText('Copyright 2025 Meteociel,fr', 240, 353);
    c.restore();
  }
};

new Chart(document.getElementById('c'), {
  type: 'line',
  data: {datasets},
  plugins: [deco],
  options: {
    responsive: false, animation: false, devicePixelRatio: 1,
    layout: {padding: {top: 1, left: 0, right: 0, bottom: 0}},
    plugins: {legend: {display: false}, tooltip: {enabled: false}},
    events: [],
    scales: {
      x: {type: 'linear', min: 0, max: 384, position: 'bottom',
        afterBuildTicks: s => { s.ticks = dayHours.map(v => ({value: v})); },
        afterFit: s => { s.height = 52; },
        grid: {color: '#d0d0d0', drawTicks: false},
        border: {color: '#a0a0a0'},
        ticks: {autoSkip: false, minRotation: 90, maxRotation: 90, padding: 1, labelOffset: 3,
          color: '#000', font: {size: 6.5, family: SM},
          callback: v => dayLabels[dayHours.indexOf(v)] || ''}},
      yT: {type: 'linear', position: 'left', min: -52.2, max: 32.9,
        afterBuildTicks: s => { s.ticks = leftTicks.map(v => ({value: v})); },
        afterFit: s => { s.width = 27; },
        grid: {color: ctx => (ctx.tick && ctx.tick.value === 0) ? '#707070' : '#d0d0d0', drawTicks: false},
        border: {color: '#c0c0c0'},
        ticks: {crossAlign: 'center', padding: 0, color: '#000', font: {size: 6.5, family: SM}}},
      yP: {type: 'linear', position: 'right', min: -7.2, max: 77.9,
        afterBuildTicks: s => { s.ticks = rightTicks.map(v => ({value: v})); },
        afterFit: s => { s.width = 27; },
        grid: {drawOnChartArea: false, drawTicks: false},
        border: {color: '#404040'},
        ticks: {crossAlign: 'center', padding: 0, color: '#000', font: {size: 6.5, family: SM}}}
    }
  }
});
</script>
</body></html>
